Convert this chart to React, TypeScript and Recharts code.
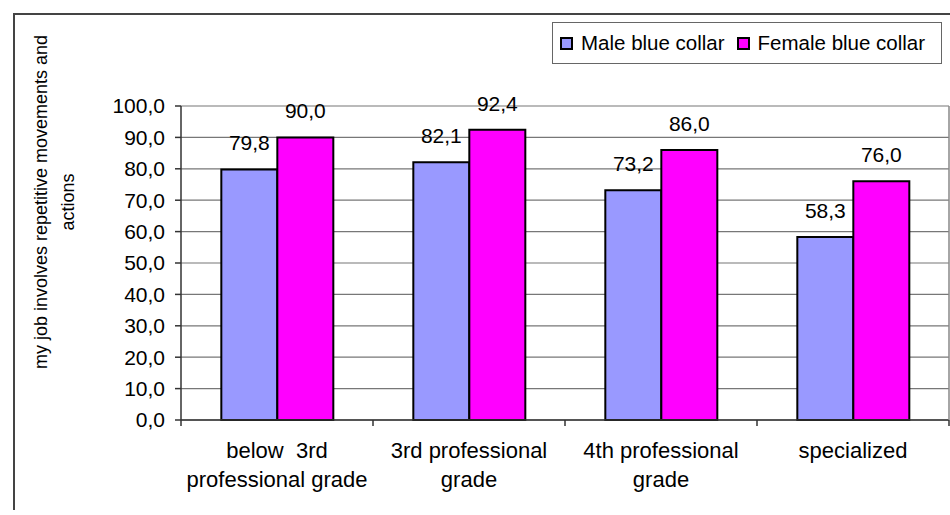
import { BarChart, Bar, XAxis, YAxis, CartesianGrid, Legend, LabelList } from 'recharts';

const categories = [
  'below  3rd\nprofessional grade',
  '3rd professional\ngrade',
  '4th professional\ngrade',
  'specialized',
];
const seriesNames = ['Male blue collar', 'Female blue collar'];
const maleValues = [79.8, 82.1, 73.2, 58.3];
const femaleValues = [90.0, 92.4, 86.0, 76.0];
const yTicks = [0, 10, 20, 30, 40, 50, 60, 70, 80, 90, 100];
const yTitleLines = ['my job involves repetitive movements and', 'actions'];

const FONT = '"Liberation Sans", Arial, sans-serif';
const MALE = '#9999FF';
const FEMALE = '#FF00FF';

const data = categories.map((c, i) => ({ cat: c, male: maleValues[i], female: femaleValues[i] }));

const fmt = (v: number) => v.toFixed(1).replace('.', ',');

function CategoryTick(props: any) {
  const { x, y, payload, index, visibleTicksCount, width } = props;
  const band = width / visibleTicksCount;
  const lines = String(payload.value).split('\n');
  return (
    <g>
      <line x1={x - band / 2} x2={x - band / 2} y1={y - 6} y2={y} stroke="#333" strokeWidth={1.5} />
      {index === visibleTicksCount - 1 && (
        <line x1={x + band / 2} x2={x + band / 2} y1={y - 6} y2={y} stroke="#333" strokeWidth={1.5} />
      )}
      <text textAnchor="middle" fontSize={22} fontFamily={FONT} fill="#000" style={{ whiteSpace: 'pre' }}>
        {lines.map((l, i) => (
          <tspan key={i} x={x} y={y + 32 + i * 29}>
            {l}
          </tspan>
        ))}
      </text>
    </g>
  );
}

function YTitle() {
  return (
    <g>
      {yTitleLines.map((l, i) => (
        <text
          key={i}
          x={41 + i * 27}
          y={202}
          transform={`rotate(-90, ${41 + i * 27}, 202)`}
          textAnchor="middle"
          dominantBaseline="central"
          fontSize={18}
          fontFamily={FONT}
          fill="#000"
        >
          {l}
        </text>
      ))}
    </g>
  );
}

function LegendBox({ payload }: any) {
  const items = [...payload].sort((a: any, b: any) => seriesNames.indexOf(a.value) - seriesNames.indexOf(b.value));
  return (
    <div
      style={{
        width: 381,
        height: 40,
        border: '1px solid #666',
        background: '#fff',
        display: 'flex',
        alignItems: 'center',
        fontFamily: FONT,
        fontSize: 20.5,
        paddingLeft: 7,
        boxSizing: 'content-box',
      }}
    >
      {items.map((p: any) => (
        <div key={p.value} style={{ display: 'flex', alignItems: 'center', marginRight: 12 }}>
          <span
            style={{
              display: 'inline-block',
              width: 9,
              height: 9,
              background: p.color,
              border: '2px solid #000',
              marginRight: 8,
            }}
          />
          <span>{p.value}</span>
        </div>
      ))}
    </div>
  );
}

export default function App() {
  return (
    <div style={{ position: 'absolute', left: 0, top: 0, width: 950, height: 515, overflow: 'hidden', background: '#fff' }}>
      <div
        style={{
          position: 'absolute',
          left: 13,
          top: 13,
          width: 1000,
          height: 495,
          borderLeft: '2px solid #444',
          borderTop: '2px solid #444',
        }}
      />
      <div style={{ position: 'absolute', left: 0, top: 0 }}>
        <BarChart
          width={950}
          height={515}
          data={data}
          margin={{ top: 106, right: 0, bottom: 0, left: 0 }}
          barCategoryGap="21%"
          barGap={0}
        >
          <CartesianGrid vertical={false} stroke="#777" strokeWidth={1.2} />
          <XAxis
            dataKey="cat"
            height={95}
            interval={0}
            tickLine={false}
            tickSize={6}
            tickMargin={0}
            axisLine={{ stroke: '#333', strokeWidth: 1.5 }}
            tick={<CategoryTick />}
          />
          <YAxis
            width={181}
            domain={[0, 100]}
            ticks={yTicks}
            interval={0}
            tickFormatter={fmt}
            tickSize={6}
            tickMargin={10}
            axisLine={{ stroke: '#333', strokeWidth: 1.5 }}
            tickLine={{ stroke: '#333', strokeWidth: 1.5 }}
            tick={{ fontSize: 21, fontFamily: FONT, fill: '#000' }}
            label={<YTitle />}
          />
          <YAxis
            yAxisId="right"
            orientation="right"
            width={1}
            domain={[0, 100]}
            tick={false}
            tickLine={false}
            axisLine={{ stroke: '#888', strokeWidth: 1.5 }}
          />
          <Legend
            layout="horizontal"
            verticalAlign="middle"
            align="center"
            wrapperStyle={{ position: 'absolute', left: 552, top: 22, width: 388, height: 42 }}
            content={<LegendBox />}
          />
          <Bar dataKey="male" name={seriesNames[0]} fill={MALE} stroke="#000" strokeWidth={2} isAnimationActive={false}>
            <LabelList dataKey="male" position="top" offset={19} formatter={fmt} fontSize={21} fontFamily={FONT} fill="#000" />
          </Bar>
          <Bar dataKey="female" name={seriesNames[1]} fill={FEMALE} stroke="#000" strokeWidth={2} isAnimationActive={false}>
            <LabelList dataKey="female" position="top" offset={19} formatter={fmt} fontSize={21} fontFamily={FONT} fill="#000" />
          </Bar>
        </BarChart>
      </div>
    </div>
  );
}
